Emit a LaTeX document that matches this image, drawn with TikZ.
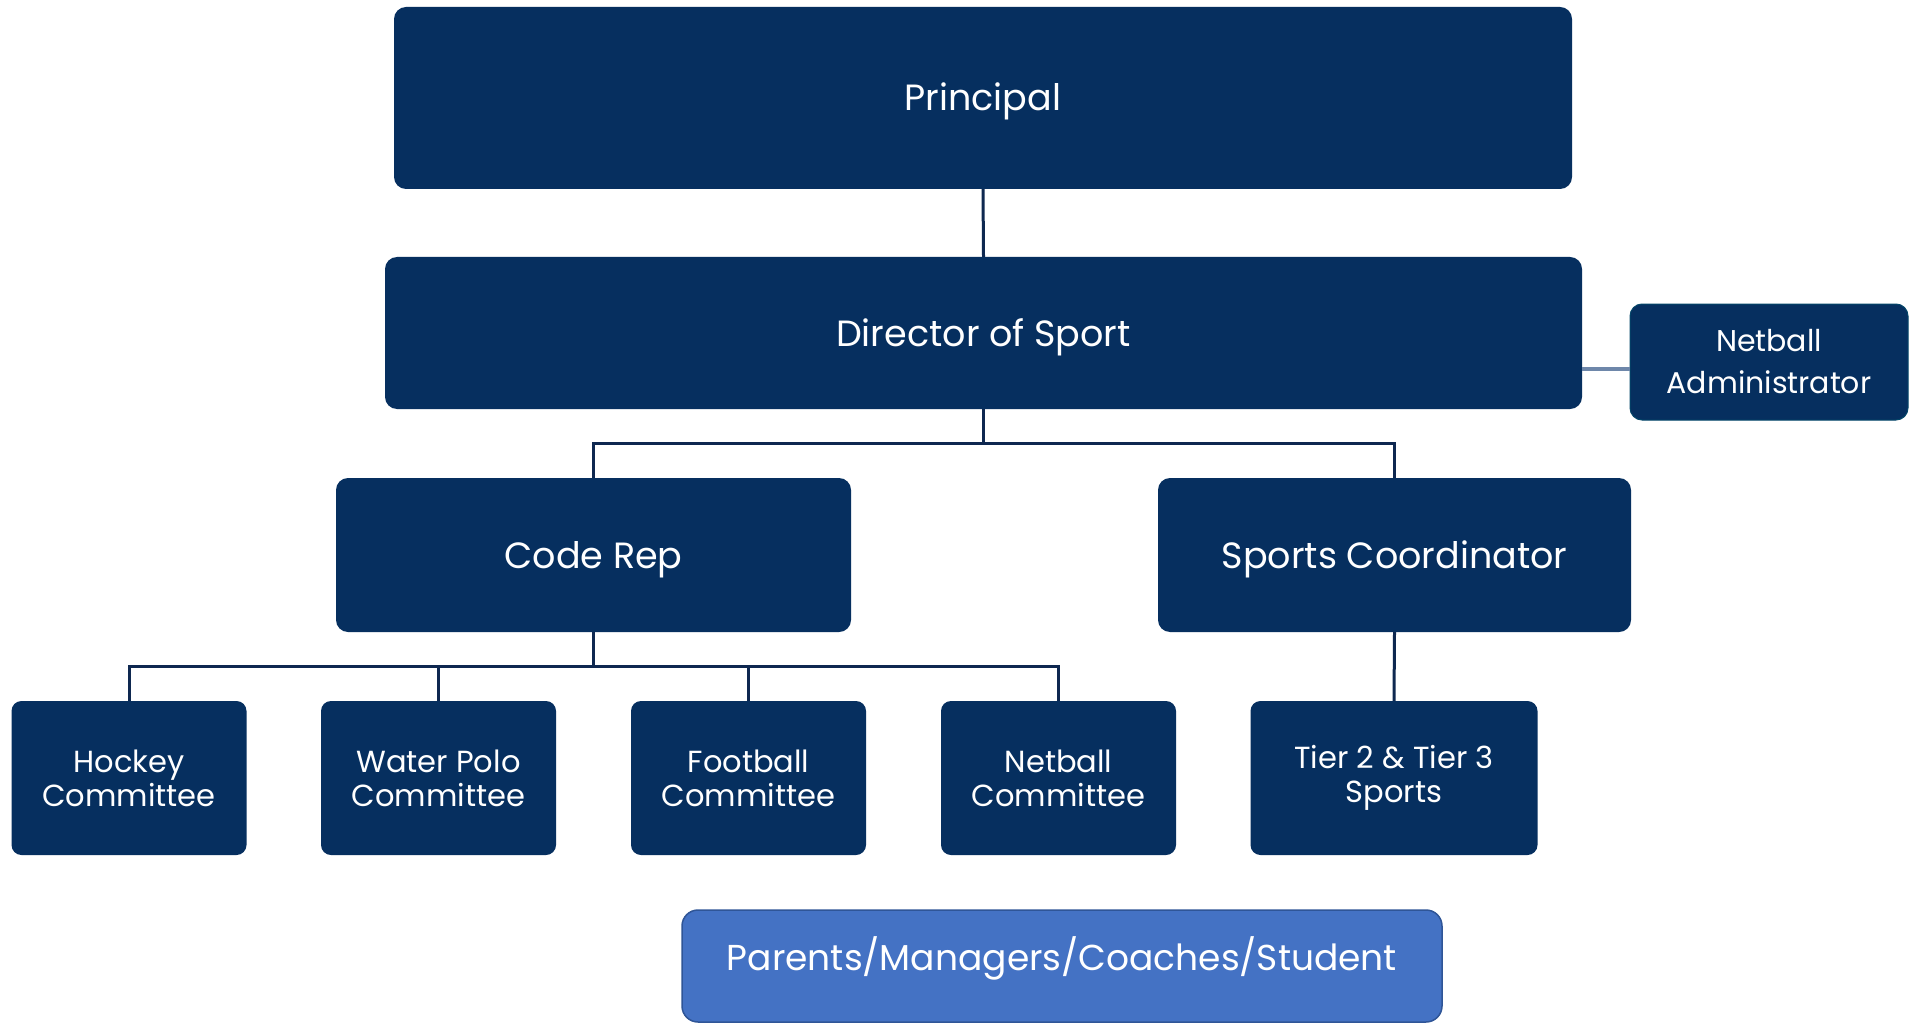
\documentclass[tikz,border=0pt]{standalone}
\usepackage{fontspec}
\setmainfont{Poppins}
\usetikzlibrary{calc}
\definecolor{navy}{RGB}{6,47,95}
\definecolor{linkc}{RGB}{14,40,80}
\definecolor{softlink}{RGB}{110,135,170}
\definecolor{paleblue}{RGB}{68,114,196}
\definecolor{paleedge}{RGB}{47,85,151}
\begin{document}
\begin{tikzpicture}[x=1pt,y=-1pt,
  box/.style={rectangle, rounded corners=12pt, fill=navy, draw=none, text=white,
    align=center, inner sep=0pt},
  bigtext/.style={font=\fontsize{36.5}{42}\selectfont, text height=26pt, text depth=0pt},
  smalltext/.style={font=\fontsize{30.5}{34}\selectfont},
  conn/.style={draw=linkc, line width=3pt},
]
\useasboundingbox (0,0) rectangle (1921,1024);
\fill[white] (0,0) rectangle (1921,1024);

% top levels
\node[box, bigtext, minimum width=1178pt, minimum height=182pt] (prin) at (983,98) {Principal};
\node[box, bigtext, minimum width=1197pt, minimum height=152pt] (dir) at (983.5,333) {Director of Sport};
\node[box, minimum width=278pt, minimum height=116pt, draw=navy!70!teal, line width=1pt,
  font=\fontsize{30}{42}\selectfont] (adm) at (1769,362) {\raisebox{-2pt}{Netball}\\\raisebox{-2pt}{Administrator}};

% second level
\node[box, bigtext, minimum width=515pt, minimum height=154pt] (code) at (593.5,555) {Code Rep};
\node[box, bigtext, minimum width=473pt, minimum height=154pt] (coord) at (1394.5,555) {Sports Coordinator};

% committees
\node[box, smalltext, rounded corners=10pt, minimum width=235pt, minimum height=154pt] (hock) at (129,778) {Hockey\\Committee};
\node[box, smalltext, rounded corners=10pt, minimum width=235pt, minimum height=154pt] (polo) at (438.5,778) {Water Polo\\Committee};
\node[box, smalltext, rounded corners=10pt, minimum width=235pt, minimum height=154pt] (foot) at (748.5,778) {Football\\Committee};
\node[box, smalltext, rounded corners=10pt, minimum width=235pt, minimum height=154pt] (net) at (1058.5,778) {Netball\\Committee};
\node[box, smalltext, rounded corners=10pt, minimum width=287pt, minimum height=154pt] (tier) at (1394,778) {\raisebox{-2pt}{Tier 2 \& Tier 3}\\\raisebox{-2pt}{Sports}};

% community box
\node[box, fill=paleblue, draw=paleedge, line width=1.5pt, rounded corners=16pt,
  minimum width=760pt, minimum height=112pt] (pars) at (1062,966) {};
\node[text=white, font=\fontsize{36}{42}\selectfont, inner sep=0pt] (parstext) at (1062,958) {Parents/Managers/Coaches/Student};

% connectors
\draw[conn] (prin.south) -- (dir.north);
\draw[conn] (dir.south) -- ++(0,34) coordinate (j1);
\draw[conn] (j1) -| (code.north);
\draw[conn] (j1) -| (coord.north);
\draw[conn] (code.south) -- ++(0,34.5) coordinate (j2);
\draw[conn] (j2) -| (hock.north);
\draw[conn] (j2) -| (polo.north);
\draw[conn] (j2) -| (foot.north);
\draw[conn] (j2) -| (net.north);
\draw[conn] (coord.south) -- (tier.north);
\coordinate (admlink) at ([yshift=-7pt]adm.west);
\draw[draw=softlink, line width=4pt] (dir.east |- admlink) -- (admlink);
\end{tikzpicture}
\end{document}
